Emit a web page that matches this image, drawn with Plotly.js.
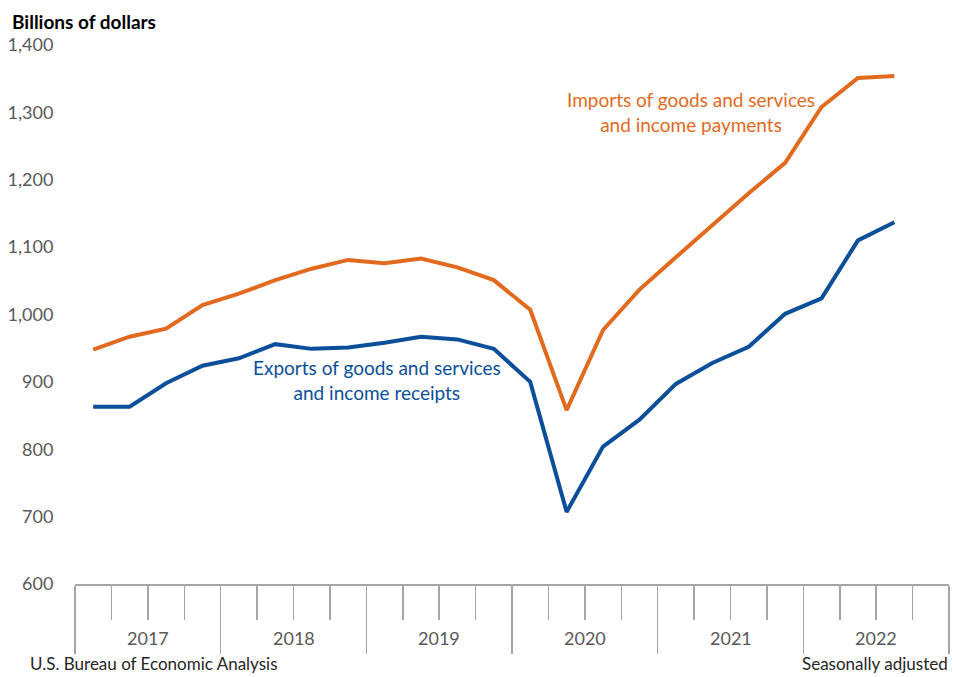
<!DOCTYPE html>
<html>
<head>
<meta charset="utf-8">
<script src="https://cdn.plot.ly/plotly-3.0.1.min.js"></script>
<style>
html,body{margin:0;padding:0;background:#fff;}
#chart{width:953px;height:677px;}
</style>
</head>
<body>
<div id="chart"></div>
<script>
// Quarterly, 2017Q1 .. 2022Q3
var quarters = ["2017Q1","2017Q2","2017Q3","2017Q4","2018Q1","2018Q2","2018Q3","2018Q4",
  "2019Q1","2019Q2","2019Q3","2019Q4","2020Q1","2020Q2","2020Q3","2020Q4",
  "2021Q1","2021Q2","2021Q3","2021Q4","2022Q1","2022Q2","2022Q3"];
var imports = [948,967,979,1014,1031,1051,1068,1081,1076,1083,1070,1051,1007,858,977,1037,1085,1133,1180,1225,1308,1351,1354];
var exports_ = [863,863,898,924,935,956,949,951,958,967,963,949,900,707,804,844,897,928,952,1001,1024,1110,1137];
var years = ["2017","2018","2019","2020","2021","2022"];
var yTicks = [600,700,800,900,1000,1100,1200,1300,1400];

var orange = "#E26A1E";
var blue = "#0B4F9A";
var gray = "#595959";
var axisGray = "#A6A6A6";
var font = "Lato, 'Open Sans', sans-serif";

var xIdx = quarters.map(function(q, i){ return i; });

var traces = [
  {x: xIdx, y: imports, type: "scatter", mode: "lines", name: "Imports",
   line: {color: orange, width: 4}, hoverinfo: "skip"},
  {x: xIdx, y: exports_, type: "scatter", mode: "lines", name: "Exports",
   line: {color: blue, width: 4}, hoverinfo: "skip"}
];

var nSlots = years.length * 4;
var yearBounds = [];
for (var k = 0; k <= years.length; k++) yearBounds.push(k * 4 - 0.5);

var annotations = [];
years.forEach(function(yr, i){
  annotations.push({x: i * 4 + 1.5, xref: "x", y: -0.1, yref: "paper",
    text: yr, showarrow: false, xanchor: "center", yanchor: "middle",
    font: {family: font, size: 18, color: gray}});
});
annotations.push({x: 16.41, xref: "x", y: 1300, yref: "y",
  text: "Imports of goods and services<br>and income payments", showarrow: false,
  align: "center", xanchor: "center", yanchor: "middle",
  font: {family: font, size: 19, color: orange}});
annotations.push({x: 7.79, xref: "x", y: 903, yref: "y",
  text: "Exports of goods and services<br>and income receipts", showarrow: false,
  align: "center", xanchor: "center", yanchor: "middle",
  font: {family: font, size: 19, color: blue}});
annotations.push({x: (28 - 75) / 874, xref: "paper", y: (584 - 676) / 539, yref: "paper",
  text: "U.S. Bureau of Economic Analysis", showarrow: false,
  xanchor: "left", yanchor: "bottom",
  font: {family: font, size: 17, color: "#262626"}});
annotations.push({x: 1.001, xref: "paper", y: (584 - 676) / 539, yref: "paper",
  text: "Seasonally adjusted", showarrow: false,
  xanchor: "right", yanchor: "bottom",
  font: {family: font, size: 17, color: "#262626"}});

var layout = {
  width: 953, height: 677,
  margin: {l: 75, r: 4, t: 45, b: 93},
  paper_bgcolor: "#fff", plot_bgcolor: "#fff",
  showlegend: false,
  title: {text: "<b>Billions of dollars</b>", x: 12/953, xanchor: "left",
          xref: "container", y: 1 - 22/677, yanchor: "middle", yref: "container",
          font: {family: font, size: 19, color: "#000"}},
  xaxis: {range: [-0.5, nSlots - 0.5], showgrid: false, zeroline: false,
    showline: true, linecolor: axisGray, linewidth: 1.5,
    tickmode: "array", tickvals: yearBounds, showticklabels: false,
    ticks: "outside", ticklen: 68, tickcolor: axisGray, tickwidth: 1.5,
    minor: {tick0: -0.5, dtick: 1, ticks: "outside", ticklen: 34, tickcolor: axisGray, tickwidth: 1.5, showgrid: false},
    fixedrange: true},
  yaxis: {range: [600, 1400], showgrid: false, zeroline: false, showline: false,
    tickmode: "array", tickvals: yTicks, tickformat: ",",
    ticks: "outside", ticklen: 17, tickcolor: "rgba(0,0,0,0)",
    tickfont: {family: font, size: 18, color: gray}, fixedrange: true},
  annotations: annotations
};

Plotly.newPlot("chart", traces, layout, {displayModeBar: false, staticPlot: true});
</script>
</body>
</html>
